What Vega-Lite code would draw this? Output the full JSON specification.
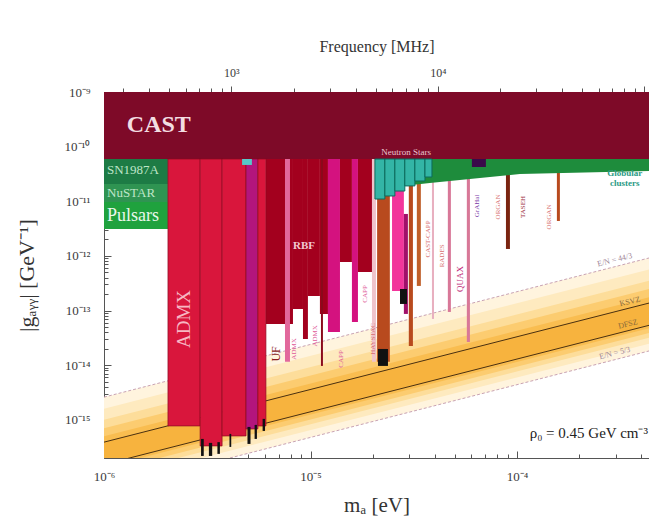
{
  "$schema": "https://vega.github.io/schema/vega-lite/v6.json",
  "width": 545,
  "height": 366,
  "autosize": "none",
  "padding": {"left": 104, "top": 92, "right": 0, "bottom": 58},
  "background": "white",
  "config": {
    "view": {"stroke": null},
    "font": "Liberation Serif",
    "axis": {"labelFont": "Liberation Serif", "titleFont": "Liberation Serif", "labelColor": "#3a3a3a", "titleColor": "#333", "domainColor": "#555", "tickColor": "#555", "grid": false, "labelFontSize": 13, "titleFontWeight": "normal", "zindex": 1, "labelOverlap": false, "labelFlush": false, "labelBound": false}
  },
  "datasets": {
    "band": [
      {"band": "b1", "m": 1e-6, "lo": 5.16e-17, "hi": 2.6e-15}, {"band": "b1", "m": 4.35e-4, "lo": 1.82e-14, "hi": 9.16e-13},
      {"band": "b2", "m": 1e-6, "lo": 7e-17, "hi": 1.6e-15}, {"band": "b2", "m": 4.35e-4, "lo": 2.47e-14, "hi": 5.64e-13},
      {"band": "b3", "m": 1e-6, "lo": 9e-17, "hi": 1.0e-15}, {"band": "b3", "m": 4.35e-4, "lo": 3.17e-14, "hi": 3.52e-13},
      {"band": "b4", "m": 1e-6, "lo": 1.1e-16, "hi": 7e-16}, {"band": "b4", "m": 4.35e-4, "lo": 3.88e-14, "hi": 2.47e-13},
      {"band": "b5", "m": 1e-6, "lo": 1.35e-16, "hi": 5e-16}, {"band": "b5", "m": 4.35e-4, "lo": 4.76e-14, "hi": 1.76e-13},
      {"band": "b6", "m": 1e-6, "lo": 1.52e-16, "hi": 3.9e-16}, {"band": "b6", "m": 4.35e-4, "lo": 5.36e-14, "hi": 1.37e-13}
    ],
    "lines": [
      {"line": "KSVZ", "m": 1e-6, "g": 3.9e-16}, {"line": "KSVZ", "m": 4.35e-4, "g": 1.37e-13},
      {"line": "DFSZ", "m": 1e-6, "g": 1.52e-16}, {"line": "DFSZ", "m": 4.35e-4, "g": 5.36e-14},
      {"line": "EN44", "m": 1e-6, "g": 2.6e-15}, {"line": "EN44", "m": 4.35e-4, "g": 9.16e-13},
      {"line": "EN5", "m": 1e-6, "g": 5.16e-17}, {"line": "EN5", "m": 4.35e-4, "g": 1.82e-14}
    ],
    "regions": [
      {"k": "cast", "m1": 1e-6, "m2": 4.35e-4, "g1": 5.94e-11, "g2": 1e-9},
      {"k": "sn", "m1": 1e-6, "m2": 2.04e-6, "g1": 2.07e-11, "g2": 5.94e-11},
      {"k": "nustar", "m1": 1e-6, "m2": 2.04e-6, "g1": 9.7e-12, "g2": 2.07e-11},
      {"k": "pulsar", "m1": 1e-6, "m2": 2.04e-6, "g1": 3.11e-12, "g2": 9.7e-12},
      {"k": "rbf", "m1": 6.08e-6, "m2": 8.22e-6, "g1": 5.69e-14, "g2": 5.94e-11},
      {"k": "rbf", "m1": 8.22e-6, "m2": 9.19e-6, "g1": 1.07e-13, "g2": 5.94e-11},
      {"k": "rbf", "m1": 9.19e-6, "m2": 9.71e-6, "g1": 3.02e-14, "g2": 5.94e-11},
      {"k": "rbf", "m1": 9.71e-6, "m2": 1.11e-5, "g1": 1.85e-13, "g2": 5.94e-11},
      {"k": "rbf", "m1": 1.11e-5, "m2": 1.214e-5, "g1": 8.67e-14, "g2": 5.94e-11},
      {"k": "mag", "m1": 1.214e-5, "m2": 1.388e-5, "g1": 4.06e-14, "g2": 5.94e-11},
      {"k": "rbf", "m1": 1.388e-5, "m2": 1.586e-5, "g1": 7.75e-13, "g2": 5.94e-11},
      {"k": "mag", "m1": 1.586e-5, "m2": 1.696e-5, "g1": 6.18e-14, "g2": 5.94e-11},
      {"k": "rbf", "m1": 1.696e-5, "m2": 1.983e-5, "g1": 5.08e-13, "g2": 5.94e-11},
      {"k": "pinkline", "m1": 7.52e-6, "m2": 7.95e-6, "g1": 1.15e-14, "g2": 5.94e-11},
      {"k": "darkline", "m1": 1.123e-5, "m2": 1.148e-5, "g1": 9.69e-15, "g2": 5.94e-11},
      {"k": "pale", "m1": 1.983e-5, "m2": 2.073e-5, "g1": 1.15e-14, "g2": 5.94e-11},
      {"k": "brown", "m1": 2.1e-5, "m2": 2.42e-5, "g1": 1.15e-14, "g2": 5.94e-11},
      {"k": "black", "m1": 2.12e-5, "m2": 2.37e-5, "g1": 9.69e-15, "g2": 1.98e-14},
      {"k": "hotpink", "m1": 2.48e-5, "m2": 2.83e-5, "g1": 2.29e-13, "g2": 5.94e-11},
      {"k": "darkmag", "m1": 2.83e-5, "m2": 2.96e-5, "g1": 8.67e-14, "g2": 5.86e-12},
      {"k": "black", "m1": 2.71e-5, "m2": 2.93e-5, "g1": 1.32e-13, "g2": 2.48e-13},
      {"k": "brown", "m1": 2.99e-5, "m2": 3.13e-5, "g1": 2.25e-14, "g2": 5.94e-11},
      {"k": "brown2", "m1": 3.27e-5, "m2": 3.42e-5, "g1": 2.82e-13, "g2": 5.94e-11},
      {"k": "palepink", "m1": 3.87e-5, "m2": 3.96e-5, "g1": 7.02e-14, "g2": 5.94e-11},
      {"k": "pink", "m1": 4.62e-5, "m2": 4.78e-5, "g1": 9.42e-14, "g2": 5.94e-11},
      {"k": "pink", "m1": 5.71e-5, "m2": 5.91e-5, "g1": 2.66e-14, "g2": 5.94e-11},
      {"k": "darkbrown", "m1": 8.83e-5, "m2": 9.23e-5, "g1": 1.34e-12, "g2": 5.94e-11},
      {"k": "brown", "m1": 1.558e-4, "m2": 1.611e-4, "g1": 4.36e-12, "g2": 5.94e-11}
    ],
    "admx": [
      {"k": "admx", "m1": 2.04e-6, "m2": 2.92e-6, "g1": 7.73e-16, "g2": 5.94e-11},
      {"k": "admx", "m1": 2.92e-6, "m2": 3.73e-6, "g1": 3.33e-16, "g2": 5.94e-11},
      {"k": "admx", "m1": 3.73e-6, "m2": 4.87e-6, "g1": 5.07e-16, "g2": 5.94e-11},
      {"k": "admxm", "m1": 4.87e-6, "m2": 5.56e-6, "g1": 6.81e-16, "g2": 5.94e-11},
      {"k": "admx", "m1": 5.56e-6, "m2": 6.08e-6, "g1": 7.73e-16, "g2": 5.94e-11}
    ],
    "gc": [
      {"m": 2.05e-5, "lo": 1.68e-11, "hi": 5.94e-11},
      {"m": 3.78e-5, "lo": 2.16e-11, "hi": 5.94e-11},
      {"m": 1.032e-4, "lo": 3.16e-11, "hi": 5.94e-11},
      {"m": 4.35e-4, "lo": 3.58e-11, "hi": 5.94e-11}
    ],
    "ns": [
      {"m1": 2.05e-5, "m2": 2.29e-5, "g1": 1.1e-11, "g2": 5.94e-11},
      {"m1": 2.29e-5, "m2": 2.56e-5, "g1": 1.25e-11, "g2": 5.94e-11},
      {"m1": 2.56e-5, "m2": 2.86e-5, "g1": 1.54e-11, "g2": 5.94e-11},
      {"m1": 2.86e-5, "m2": 3.2e-5, "g1": 1.91e-11, "g2": 5.94e-11},
      {"m1": 3.2e-5, "m2": 3.58e-5, "g1": 2.35e-11, "g2": 5.94e-11},
      {"m1": 3.58e-5, "m2": 3.87e-5, "g1": 2.78e-11, "g2": 5.94e-11}
    ],
    "blobs": [
      {"k": "cyan", "m1": 4.66e-6, "m2": 5.2e-6, "g1": 4.62e-11, "g2": 5.94e-11},
      {"k": "purple", "m1": 6.04e-5, "m2": 7.06e-5, "g1": 4.24e-11, "g2": 5.94e-11},
      {"k": "black", "m1": 2.95e-6, "m2": 3.04e-6, "g1": 2.18e-16, "g2": 4.47e-16},
      {"k": "black", "m1": 3.22e-6, "m2": 3.34e-6, "g1": 2.18e-16, "g2": 3.78e-16},
      {"k": "black", "m1": 3.54e-6, "m2": 3.64e-6, "g1": 2.38e-16, "g2": 3.9e-16},
      {"k": "black", "m1": 4.05e-6, "m2": 4.13e-6, "g1": 3.19e-16, "g2": 5.52e-16},
      {"k": "black", "m1": 4.95e-6, "m2": 5.12e-6, "g1": 3.62e-16, "g2": 7.41e-16},
      {"k": "black", "m1": 5.36e-6, "m2": 5.5e-6, "g1": 4.47e-16, "g2": 8.07e-16},
      {"k": "black", "m1": 5.86e-6, "m2": 6.02e-6, "g1": 6.26e-16, "g2": 1.04e-15}
    ],
    "labels": [
      {"s": "cast", "m": 1.29e-6, "g": 2.44e-10, "t": "CAST"},
      {"s": "stellar", "m": 1.034e-6, "g": 3.74e-11, "t": "SN1987A"},
      {"s": "stellar", "m": 1.034e-6, "g": 1.42e-11, "t": "NuSTAR"},
      {"s": "pulsar", "m": 1.034e-6, "g": 5.38e-12, "t": "Pulsars"},
      {"s": "admx", "m": 2.44e-6, "g": 7.02e-14, "t": "ADMX"},
      {"s": "rbf", "m": 9.29e-6, "g": 1.52e-12, "t": "RBF"},
      {"s": "uf", "m": 6.8e-6, "g": 1.61e-14, "t": "UF"},
      {"s": "ns", "m": 2.9e-5, "g": 7.98e-11, "t": "Neutron Stars"},
      {"s": "gc", "m": 3.32e-4, "g": 3.3e-11, "t": "Globular"},
      {"s": "gc", "m": 3.32e-4, "g": 2.16e-11, "t": "clusters"},
      {"s": "rho", "m": 4.3e-4, "g": 5.75e-16, "t": "ρ₀ = 0.45 GeV cm⁻³"},
      {"s": "qcd", "m": 3.52e-4, "g": 1.44e-13, "t": "KSVZ"},
      {"s": "qcd", "m": 3.44e-4, "g": 5.58e-14, "t": "DFSZ"},
      {"s": "en", "m": 2.97e-4, "g": 8.32e-13, "t": "E/N = 44/3"},
      {"s": "en", "m": 2.97e-4, "g": 1.64e-14, "t": "E/N = 5/3"},
      {"s": "pinkexp", "m": 8.31e-6, "g": 1.98e-14, "t": "ADMX"},
      {"s": "pinkexp", "m": 1.05e-5, "g": 3.43e-14, "t": "ADMX"},
      {"s": "pinkexp", "m": 1.403e-5, "g": 1.3e-14, "t": "CAPP"},
      {"s": "pinkexp", "m": 1.834e-5, "g": 2.01e-13, "t": "CAPP"},
      {"s": "salmon", "m": 2.005e-5, "g": 3.02e-14, "t": "HAYSTAC"},
      {"s": "salmon", "m": 3.7e-5, "g": 2.04e-12, "t": "CAST-CAPP"},
      {"s": "salmon", "m": 4.33e-5, "g": 1.0e-12, "t": "RADES"},
      {"s": "salmon", "m": 8.08e-5, "g": 7.86e-12, "t": "ORGAN"},
      {"s": "salmon", "m": 1.425e-4, "g": 5.16e-12, "t": "ORGAN"},
      {"s": "quax", "m": 5.29e-5, "g": 3.79e-13, "t": "QUAX"},
      {"s": "grahal", "m": 6.39e-5, "g": 8.2e-12, "t": "GrAHal"},
      {"s": "taseh", "m": 1.067e-4, "g": 7.86e-12, "t": "TASEH"}
    ],
    "freq": [{"f": 241.8}, {"f": 105180}]
  },
  "layer": [
    {
      "layer": [
        {
          "data": {"name": "band"},
          "transform": [{"filter": "datum.band == 'b1'"}],
          "mark": {"type": "area", "color": "#fff4de", "clip": true},
          "encoding": {
            "x": {"field": "m", "type": "quantitative", "scale": {"type": "log", "domain": [1e-6, 4.35e-4], "nice": false},
              "axis": {"orient": "bottom", "title": "mₐ [eV]", "titleFontSize": 21, "titlePadding": 8, "labelFontSize": 13, "labelPadding": 19,
                "values": [1e-6, 2e-6, 3e-6, 4e-6, 5e-6, 6e-6, 7e-6, 8e-6, 9e-6, 1e-5, 2e-5, 3e-5, 4e-5, 5e-5, 6e-5, 7e-5, 8e-5, 9e-5, 1e-4, 2e-4, 3e-4, 4e-4],
                "labelExpr": "abs(datum.value/1e-6-1)<0.01 ? '10⁻⁶' : abs(datum.value/1e-5-1)<0.01 ? '10⁻⁵' : abs(datum.value/1e-4-1)<0.01 ? '10⁻⁴' : ''",
                "tickSize": {"condition": {"test": "abs(log(datum.value)/LN10 - round(log(datum.value)/LN10)) < 0.01", "value": -7}, "value": -4}}},
            "y": {"field": "lo", "type": "quantitative", "scale": {"type": "log", "domain": [2e-16, 1e-9], "nice": false},
              "axis": {"orient": "left", "title": "|gₐᵧᵧ| [GeV⁻¹]", "titleFontSize": 22, "titlePadding": 26, "labelFontSize": 13, "labelPadding": 21,
                "values": [2e-16, 3e-16, 4e-16, 5e-16, 6e-16, 7e-16, 8e-16, 9e-16, 1e-15, 2e-15, 3e-15, 4e-15, 5e-15, 6e-15, 7e-15, 8e-15, 9e-15, 1e-14, 2e-14, 3e-14, 4e-14, 5e-14, 6e-14, 7e-14, 8e-14, 9e-14, 1e-13, 2e-13, 3e-13, 4e-13, 5e-13, 6e-13, 7e-13, 8e-13, 9e-13, 1e-12, 2e-12, 3e-12, 4e-12, 5e-12, 6e-12, 7e-12, 8e-12, 9e-12, 1e-11, 2e-11, 3e-11, 4e-11, 5e-11, 6e-11, 7e-11, 8e-11, 9e-11, 1e-10, 2e-10, 3e-10, 4e-10, 5e-10, 6e-10, 7e-10, 8e-10, 9e-10, 1e-9],
                "labelExpr": "abs(datum.value/1e-9-1)<0.01 ? '10⁻⁹' : abs(datum.value/1e-10-1)<0.01 ? '10⁻¹⁰' : abs(datum.value/1e-11-1)<0.01 ? '10⁻¹¹' : abs(datum.value/1e-12-1)<0.01 ? '10⁻¹²' : abs(datum.value/1e-13-1)<0.01 ? '10⁻¹³' : abs(datum.value/1e-14-1)<0.01 ? '10⁻¹⁴' : abs(datum.value/1e-15-1)<0.01 ? '10⁻¹⁵' : ''",
                "tickSize": {"condition": {"test": "abs(log(datum.value)/LN10 - round(log(datum.value)/LN10)) < 0.01", "value": -7}, "value": -4}}},
            "y2": {"field": "hi"}
          }
        },
        {"data": {"name": "band"}, "transform": [{"filter": "datum.band == 'b2'"}], "mark": {"type": "area", "color": "#feeabf", "clip": true},
          "encoding": {"x": {"field": "m", "type": "quantitative", "scale": {"type": "log", "domain": [1e-6, 4.35e-4], "nice": false}},
            "y": {"field": "lo", "type": "quantitative", "scale": {"type": "log", "domain": [2e-16, 1e-9], "nice": false}}, "y2": {"field": "hi"}}},
        {"data": {"name": "band"}, "transform": [{"filter": "datum.band == 'b3'"}], "mark": {"type": "area", "color": "#fddd9a", "clip": true},
          "encoding": {"x": {"field": "m", "type": "quantitative", "scale": {"type": "log", "domain": [1e-6, 4.35e-4], "nice": false}},
            "y": {"field": "lo", "type": "quantitative", "scale": {"type": "log", "domain": [2e-16, 1e-9], "nice": false}}, "y2": {"field": "hi"}}},
        {"data": {"name": "band"}, "transform": [{"filter": "datum.band == 'b4'"}], "mark": {"type": "area", "color": "#fccc70", "clip": true},
          "encoding": {"x": {"field": "m", "type": "quantitative", "scale": {"type": "log", "domain": [1e-6, 4.35e-4], "nice": false}},
            "y": {"field": "lo", "type": "quantitative", "scale": {"type": "log", "domain": [2e-16, 1e-9], "nice": false}}, "y2": {"field": "hi"}}},
        {"data": {"name": "band"}, "transform": [{"filter": "datum.band == 'b5'"}], "mark": {"type": "area", "color": "#f9bd50", "clip": true},
          "encoding": {"x": {"field": "m", "type": "quantitative", "scale": {"type": "log", "domain": [1e-6, 4.35e-4], "nice": false}},
            "y": {"field": "lo", "type": "quantitative", "scale": {"type": "log", "domain": [2e-16, 1e-9], "nice": false}}, "y2": {"field": "hi"}}},
        {"data": {"name": "band"}, "transform": [{"filter": "datum.band == 'b6'"}], "mark": {"type": "area", "color": "#f7b33e", "clip": true},
          "encoding": {"x": {"field": "m", "type": "quantitative", "scale": {"type": "log", "domain": [1e-6, 4.35e-4], "nice": false}},
            "y": {"field": "lo", "type": "quantitative", "scale": {"type": "log", "domain": [2e-16, 1e-9], "nice": false}}, "y2": {"field": "hi"}}},
        {"data": {"name": "lines"}, "transform": [{"filter": "datum.line == 'KSVZ' || datum.line == 'DFSZ'"}],
          "mark": {"type": "line", "color": "#4a3010", "strokeWidth": 1, "clip": true},
          "encoding": {"x": {"field": "m", "type": "quantitative", "scale": {"type": "log", "domain": [1e-6, 4.35e-4], "nice": false}},
            "y": {"field": "g", "type": "quantitative", "scale": {"type": "log", "domain": [2e-16, 1e-9], "nice": false}}, "detail": {"field": "line"}}},
        {"data": {"name": "lines"}, "transform": [{"filter": "datum.line == 'EN44' || datum.line == 'EN5'"}],
          "mark": {"type": "line", "color": "#c9a3b3", "strokeWidth": 1, "strokeDash": [3, 2], "clip": true},
          "encoding": {"x": {"field": "m", "type": "quantitative", "scale": {"type": "log", "domain": [1e-6, 4.35e-4], "nice": false}},
            "y": {"field": "g", "type": "quantitative", "scale": {"type": "log", "domain": [2e-16, 1e-9], "nice": false}}, "detail": {"field": "line"}}},
        {"data": {"name": "regions"}, "mark": {"type": "rect", "clip": true},
          "encoding": {"x": {"field": "m1", "type": "quantitative", "scale": {"type": "log", "domain": [1e-6, 4.35e-4], "nice": false}}, "x2": {"field": "m2"},
            "y": {"field": "g1", "type": "quantitative", "scale": {"type": "log", "domain": [2e-16, 1e-9], "nice": false}}, "y2": {"field": "g2"},
            "color": {"field": "k", "type": "nominal", "legend": null, "scale": {
              "domain": ["cast", "sn", "nustar", "pulsar", "rbf", "mag", "pinkline", "darkline", "pale", "brown", "black", "hotpink", "darkmag", "brown2", "palepink", "pink", "darkbrown", "admx", "admxm", "cyan", "purple"],
              "range": ["#7e0a28", "#1d7b45", "#2f9452", "#1fa23e", "#a3001e", "#d4127f", "#e2689c", "#8a0a1c", "#efc3ca", "#b84a1e", "#111111", "#f2359b", "#a0106a", "#c0602a", "#e8b0c0", "#d87898", "#7a2410", "#d9163c", "#b3157d", "#58c8c8", "#3a0a4a"]}}}},
        {"data": {"name": "admx"}, "mark": {"type": "rect", "clip": true, "stroke": "#8a0a20", "strokeWidth": 0.7},
          "encoding": {"x": {"field": "m1", "type": "quantitative", "scale": {"type": "log", "domain": [1e-6, 4.35e-4], "nice": false}}, "x2": {"field": "m2"},
            "y": {"field": "g1", "type": "quantitative", "scale": {"type": "log", "domain": [2e-16, 1e-9], "nice": false}}, "y2": {"field": "g2"},
            "color": {"field": "k", "type": "nominal", "legend": null, "scale": {
              "domain": ["cast", "sn", "nustar", "pulsar", "rbf", "mag", "pinkline", "darkline", "pale", "brown", "black", "hotpink", "darkmag", "brown2", "palepink", "pink", "darkbrown", "admx", "admxm", "cyan", "purple"],
              "range": ["#7e0a28", "#1d7b45", "#2f9452", "#1fa23e", "#a3001e", "#d4127f", "#e2689c", "#8a0a1c", "#efc3ca", "#b84a1e", "#111111", "#f2359b", "#a0106a", "#c0602a", "#e8b0c0", "#d87898", "#7a2410", "#d9163c", "#b3157d", "#58c8c8", "#3a0a4a"]}}}},
        {"data": {"name": "gc"}, "mark": {"type": "area", "color": "#1e8c3c", "clip": true},
          "encoding": {"x": {"field": "m", "type": "quantitative", "scale": {"type": "log", "domain": [1e-6, 4.35e-4], "nice": false}},
            "y": {"field": "lo", "type": "quantitative", "scale": {"type": "log", "domain": [2e-16, 1e-9], "nice": false}}, "y2": {"field": "hi"}}},
        {"data": {"name": "ns"}, "mark": {"type": "rect", "clip": true, "color": "#33b5a6", "stroke": "#0d6b5e", "strokeWidth": 1},
          "encoding": {"x": {"field": "m1", "type": "quantitative", "scale": {"type": "log", "domain": [1e-6, 4.35e-4], "nice": false}}, "x2": {"field": "m2"},
            "y": {"field": "g1", "type": "quantitative", "scale": {"type": "log", "domain": [2e-16, 1e-9], "nice": false}}, "y2": {"field": "g2"}}},
        {"data": {"name": "blobs"}, "mark": {"type": "rect", "clip": true},
          "encoding": {"x": {"field": "m1", "type": "quantitative", "scale": {"type": "log", "domain": [1e-6, 4.35e-4], "nice": false}}, "x2": {"field": "m2"},
            "y": {"field": "g1", "type": "quantitative", "scale": {"type": "log", "domain": [2e-16, 1e-9], "nice": false}}, "y2": {"field": "g2"},
            "color": {"field": "k", "type": "nominal", "legend": null, "scale": {
              "domain": ["cast", "sn", "nustar", "pulsar", "rbf", "mag", "pinkline", "darkline", "pale", "brown", "black", "hotpink", "darkmag", "brown2", "palepink", "pink", "darkbrown", "admx", "admxm", "cyan", "purple"],
              "range": ["#7e0a28", "#1d7b45", "#2f9452", "#1fa23e", "#a3001e", "#d4127f", "#e2689c", "#8a0a1c", "#efc3ca", "#b84a1e", "#111111", "#f2359b", "#a0106a", "#c0602a", "#e8b0c0", "#d87898", "#7a2410", "#d9163c", "#b3157d", "#58c8c8", "#3a0a4a"]}}}},
        {"data": {"name": "labels"}, "transform": [{"filter": "datum.s == 'cast'"}], "mark": {"type": "text", "font": "Liberation Serif", "fontSize": 24, "fontWeight": "bold", "color": "#f3dde2", "align": "left", "baseline": "middle"},
          "encoding": {"x": {"field": "m", "type": "quantitative", "scale": {"type": "log", "domain": [1e-6, 4.35e-4], "nice": false}}, "y": {"field": "g", "type": "quantitative", "scale": {"type": "log", "domain": [2e-16, 1e-9], "nice": false}}, "text": {"field": "t"}}},
        {"data": {"name": "labels"}, "transform": [{"filter": "datum.s == 'stellar'"}], "mark": {"type": "text", "font": "Liberation Serif", "fontSize": 13, "color": "#bfe6c8", "align": "left", "baseline": "middle"},
          "encoding": {"x": {"field": "m", "type": "quantitative", "scale": {"type": "log", "domain": [1e-6, 4.35e-4], "nice": false}}, "y": {"field": "g", "type": "quantitative", "scale": {"type": "log", "domain": [2e-16, 1e-9], "nice": false}}, "text": {"field": "t"}}},
        {"data": {"name": "labels"}, "transform": [{"filter": "datum.s == 'pulsar'"}], "mark": {"type": "text", "font": "Liberation Serif", "fontSize": 18, "color": "#eaf7ec", "align": "left", "baseline": "middle"},
          "encoding": {"x": {"field": "m", "type": "quantitative", "scale": {"type": "log", "domain": [1e-6, 4.35e-4], "nice": false}}, "y": {"field": "g", "type": "quantitative", "scale": {"type": "log", "domain": [2e-16, 1e-9], "nice": false}}, "text": {"field": "t"}}},
        {"data": {"name": "labels"}, "transform": [{"filter": "datum.s == 'admx'"}], "mark": {"type": "text", "font": "Liberation Serif", "fontSize": 19, "color": "#f7b7c3", "align": "center", "baseline": "middle", "angle": 270},
          "encoding": {"x": {"field": "m", "type": "quantitative", "scale": {"type": "log", "domain": [1e-6, 4.35e-4], "nice": false}}, "y": {"field": "g", "type": "quantitative", "scale": {"type": "log", "domain": [2e-16, 1e-9], "nice": false}}, "text": {"field": "t"}}},
        {"data": {"name": "labels"}, "transform": [{"filter": "datum.s == 'rbf'"}], "mark": {"type": "text", "font": "Liberation Serif", "fontSize": 11, "fontWeight": "bold", "color": "#f2c9d2", "align": "center", "baseline": "middle"},
          "encoding": {"x": {"field": "m", "type": "quantitative", "scale": {"type": "log", "domain": [1e-6, 4.35e-4], "nice": false}}, "y": {"field": "g", "type": "quantitative", "scale": {"type": "log", "domain": [2e-16, 1e-9], "nice": false}}, "text": {"field": "t"}}},
        {"data": {"name": "labels"}, "transform": [{"filter": "datum.s == 'uf'"}], "mark": {"type": "text", "font": "Liberation Serif", "fontSize": 12, "color": "#8a1a20", "align": "center", "baseline": "middle", "angle": 270},
          "encoding": {"x": {"field": "m", "type": "quantitative", "scale": {"type": "log", "domain": [1e-6, 4.35e-4], "nice": false}}, "y": {"field": "g", "type": "quantitative", "scale": {"type": "log", "domain": [2e-16, 1e-9], "nice": false}}, "text": {"field": "t"}}},
        {"data": {"name": "labels"}, "transform": [{"filter": "datum.s == 'ns'"}], "mark": {"type": "text", "font": "Liberation Serif", "fontSize": 9, "color": "#e9c6d0", "align": "center", "baseline": "middle"},
          "encoding": {"x": {"field": "m", "type": "quantitative", "scale": {"type": "log", "domain": [1e-6, 4.35e-4], "nice": false}}, "y": {"field": "g", "type": "quantitative", "scale": {"type": "log", "domain": [2e-16, 1e-9], "nice": false}}, "text": {"field": "t"}}},
        {"data": {"name": "labels"}, "transform": [{"filter": "datum.s == 'gc'"}], "mark": {"type": "text", "font": "Liberation Serif", "fontSize": 9, "fontWeight": "bold", "color": "#2b9a85", "align": "center", "baseline": "middle"},
          "encoding": {"x": {"field": "m", "type": "quantitative", "scale": {"type": "log", "domain": [1e-6, 4.35e-4], "nice": false}}, "y": {"field": "g", "type": "quantitative", "scale": {"type": "log", "domain": [2e-16, 1e-9], "nice": false}}, "text": {"field": "t"}}},
        {"data": {"name": "labels"}, "transform": [{"filter": "datum.s == 'rho'"}], "mark": {"type": "text", "font": "Liberation Serif", "fontSize": 15, "color": "#222", "align": "right", "baseline": "middle"},
          "encoding": {"x": {"field": "m", "type": "quantitative", "scale": {"type": "log", "domain": [1e-6, 4.35e-4], "nice": false}}, "y": {"field": "g", "type": "quantitative", "scale": {"type": "log", "domain": [2e-16, 1e-9], "nice": false}}, "text": {"field": "t"}}},
        {"data": {"name": "labels"}, "transform": [{"filter": "datum.s == 'qcd'"}], "mark": {"type": "text", "font": "Liberation Serif", "fontSize": 8, "color": "#8a6a3a", "align": "center", "baseline": "middle", "angle": 346},
          "encoding": {"x": {"field": "m", "type": "quantitative", "scale": {"type": "log", "domain": [1e-6, 4.35e-4], "nice": false}}, "y": {"field": "g", "type": "quantitative", "scale": {"type": "log", "domain": [2e-16, 1e-9], "nice": false}}, "text": {"field": "t"}}},
        {"data": {"name": "labels"}, "transform": [{"filter": "datum.s == 'en'"}], "mark": {"type": "text", "font": "Liberation Serif", "fontSize": 8, "color": "#a08898", "align": "center", "baseline": "middle", "angle": 346},
          "encoding": {"x": {"field": "m", "type": "quantitative", "scale": {"type": "log", "domain": [1e-6, 4.35e-4], "nice": false}}, "y": {"field": "g", "type": "quantitative", "scale": {"type": "log", "domain": [2e-16, 1e-9], "nice": false}}, "text": {"field": "t"}}},
        {"data": {"name": "labels"}, "transform": [{"filter": "datum.s == 'pinkexp'"}], "mark": {"type": "text", "font": "Liberation Serif", "fontSize": 7, "color": "#e05a9a", "align": "center", "baseline": "middle", "angle": 270},
          "encoding": {"x": {"field": "m", "type": "quantitative", "scale": {"type": "log", "domain": [1e-6, 4.35e-4], "nice": false}}, "y": {"field": "g", "type": "quantitative", "scale": {"type": "log", "domain": [2e-16, 1e-9], "nice": false}}, "text": {"field": "t"}}},
        {"data": {"name": "labels"}, "transform": [{"filter": "datum.s == 'salmon'"}], "mark": {"type": "text", "font": "Liberation Serif", "fontSize": 7, "color": "#d87070", "align": "center", "baseline": "middle", "angle": 270},
          "encoding": {"x": {"field": "m", "type": "quantitative", "scale": {"type": "log", "domain": [1e-6, 4.35e-4], "nice": false}}, "y": {"field": "g", "type": "quantitative", "scale": {"type": "log", "domain": [2e-16, 1e-9], "nice": false}}, "text": {"field": "t"}}},
        {"data": {"name": "labels"}, "transform": [{"filter": "datum.s == 'quax'"}], "mark": {"type": "text", "font": "Liberation Serif", "fontSize": 9, "color": "#c02a78", "align": "center", "baseline": "middle", "angle": 270},
          "encoding": {"x": {"field": "m", "type": "quantitative", "scale": {"type": "log", "domain": [1e-6, 4.35e-4], "nice": false}}, "y": {"field": "g", "type": "quantitative", "scale": {"type": "log", "domain": [2e-16, 1e-9], "nice": false}}, "text": {"field": "t"}}},
        {"data": {"name": "labels"}, "transform": [{"filter": "datum.s == 'grahal'"}], "mark": {"type": "text", "font": "Liberation Serif", "fontSize": 7, "color": "#7a3aa8", "align": "center", "baseline": "middle", "angle": 270},
          "encoding": {"x": {"field": "m", "type": "quantitative", "scale": {"type": "log", "domain": [1e-6, 4.35e-4], "nice": false}}, "y": {"field": "g", "type": "quantitative", "scale": {"type": "log", "domain": [2e-16, 1e-9], "nice": false}}, "text": {"field": "t"}}},
        {"data": {"name": "labels"}, "transform": [{"filter": "datum.s == 'taseh'"}], "mark": {"type": "text", "font": "Liberation Serif", "fontSize": 7, "color": "#a03040", "align": "center", "baseline": "middle", "angle": 270},
          "encoding": {"x": {"field": "m", "type": "quantitative", "scale": {"type": "log", "domain": [1e-6, 4.35e-4], "nice": false}}, "y": {"field": "g", "type": "quantitative", "scale": {"type": "log", "domain": [2e-16, 1e-9], "nice": false}}, "text": {"field": "t"}}}
      ]
    },
    {
      "data": {"name": "freq"},
      "mark": {"type": "point", "opacity": 0},
      "encoding": {
        "x": {"field": "f", "type": "quantitative", "scale": {"type": "log", "domain": [241.8, 105180], "nice": false},
          "axis": {"orient": "top", "title": "Frequency [MHz]", "titleFontSize": 16, "titlePadding": 12, "labelFontSize": 12, "labelPadding": 7,
            "values": [300, 400, 500, 600, 700, 800, 900, 1000, 2000, 3000, 4000, 5000, 6000, 7000, 8000, 9000, 10000, 20000, 30000, 40000, 50000, 60000, 70000, 80000, 90000, 100000],
            "labelExpr": "abs(datum.value/1000-1)<0.01 ? '10³' : abs(datum.value/10000-1)<0.01 ? '10⁴' : ''",
            "tickSize": {"condition": {"test": "abs(log(datum.value)/LN10 - round(log(datum.value)/LN10)) < 0.01", "value": 6}, "value": 4}}}
      }
    }
  ],
  "resolve": {"scale": {"x": "independent"}}
}
